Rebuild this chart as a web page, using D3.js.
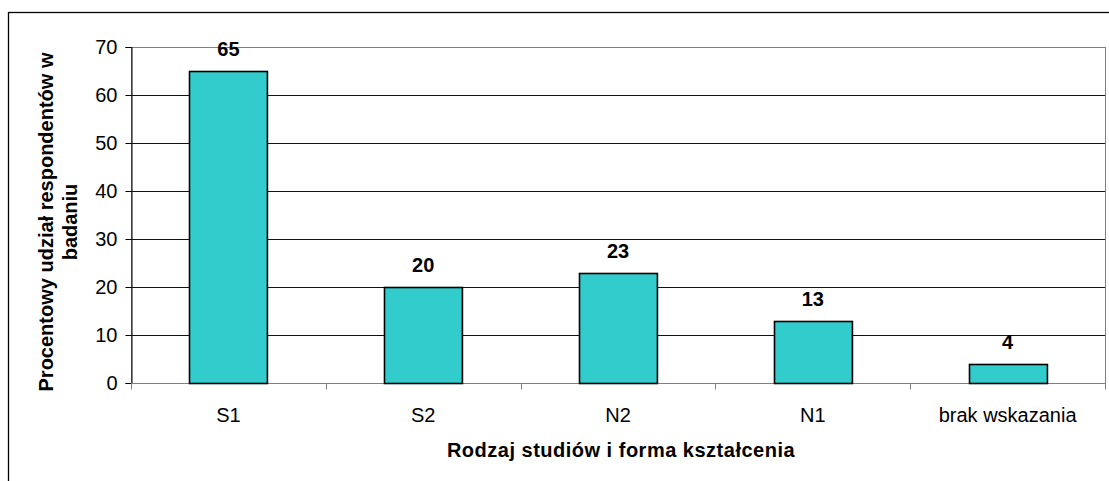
<!DOCTYPE html>
<html><head><meta charset="utf-8">
<script src="https://cdn.jsdelivr.net/npm/d3@7"></script>
<style>body{margin:0;background:#fff}svg{display:block;font-family:"Liberation Sans",Arial,sans-serif}</style>
</head><body><svg id="c" width="1109" height="481"></svg>
<script>
const categories = ["S1","S2","N2","N1","brak wskazania"];
const values = [65,20,23,13,4];
const yTicks = [0,10,20,30,40,50,60,70];
const yTitle = ["Procentowy udział respondentów w","badaniu"];
const xTitle = "Rodzaj studiów i forma kształcenia";

const svg = d3.select("#c");
const m = {l:131, r:1105, t:47, b:383};
svg.append("rect").attr("x",8.5).attr("y",12.5).attr("width",1200).attr("height",600)
  .attr("fill","none").attr("stroke","#000").attr("stroke-width",1.3);

const x = d3.scaleBand().domain(categories).range([m.l,m.r]).paddingInner(0.6).paddingOuter(0.3);
const xb = d3.scaleBand().domain(categories).range([m.l,m.r]);
const y = d3.scaleLinear().domain([0,70]).range([m.b,m.t]);

svg.append("rect").attr("x",m.l+0.5).attr("y",m.t+0.5).attr("width",m.r-m.l).attr("height",m.b-m.t)
  .attr("fill","none").attr("stroke","#808080");
svg.append("g").selectAll("line").data(yTicks.filter(d=>d>0 && d<70)).join("line")
  .attr("x1",m.l).attr("x2",m.r).attr("y1",d=>Math.round(y(d))+0.5).attr("y2",d=>Math.round(y(d))+0.5)
  .attr("stroke","#111");

const ya = svg.append("g").attr("transform",`translate(${m.l+0.5},0)`)
  .call(d3.axisLeft(y).tickValues(yTicks).tickSize(6).tickPadding(8).tickFormat(d3.format("d")));
ya.select(".domain").attr("stroke","#000");
ya.selectAll(".tick line").attr("stroke","#000");
ya.selectAll("text").attr("font-size",20).attr("font-family","Liberation Sans, Arial, sans-serif").attr("fill","#000");

const xa = svg.append("g").attr("transform",`translate(0,${m.b+0.5})`);
xa.append("line").attr("x1",m.l).attr("x2",m.r).attr("stroke","#808080");
xa.selectAll("line.t").data(categories.concat(["end"])).join("line").attr("class","t")
  .attr("x1",(d,i)=>Math.round(m.l+i*xb.bandwidth())+0.5).attr("x2",(d,i)=>Math.round(m.l+i*xb.bandwidth())+0.5)
  .attr("y1",0).attr("y2",6).attr("stroke","#808080");
xa.selectAll("text").data(categories).join("text")
  .attr("x",d=>xb(d)+xb.bandwidth()/2).attr("y",38).attr("text-anchor","middle")
  .attr("font-size",20).attr("fill","#000").text(d=>d);

svg.append("g").selectAll("rect").data(values).join("rect")
  .attr("x",(d,i)=>Math.round(x(categories[i]))+0.5).attr("y",d=>Math.round(y(d))+0.5)
  .attr("width",x.bandwidth()).attr("height",d=>m.b-Math.round(y(d)))
  .attr("fill","#33CCCC").attr("stroke","#000").attr("stroke-width",1.6);
svg.append("g").selectAll("text").data(values).join("text")
  .attr("x",(d,i)=>x(categories[i])+x.bandwidth()/2).attr("y",d=>y(d)-15)
  .attr("text-anchor","middle").attr("font-size",20).attr("font-weight","bold").text(d=>d);

svg.append("text").attr("x",621).attr("y",457).attr("text-anchor","middle")
  .attr("font-size",20).attr("letter-spacing",0.5).attr("font-weight","bold").text(xTitle);
const yt = svg.append("text").attr("transform","translate(53,222) rotate(-90)").attr("text-anchor","middle")
  .attr("font-size",20).attr("font-weight","bold");
yTitle.forEach((t,i)=>yt.append("tspan").attr("x",0).attr("dy",i?24:0).text(t));
</script></body></html>
